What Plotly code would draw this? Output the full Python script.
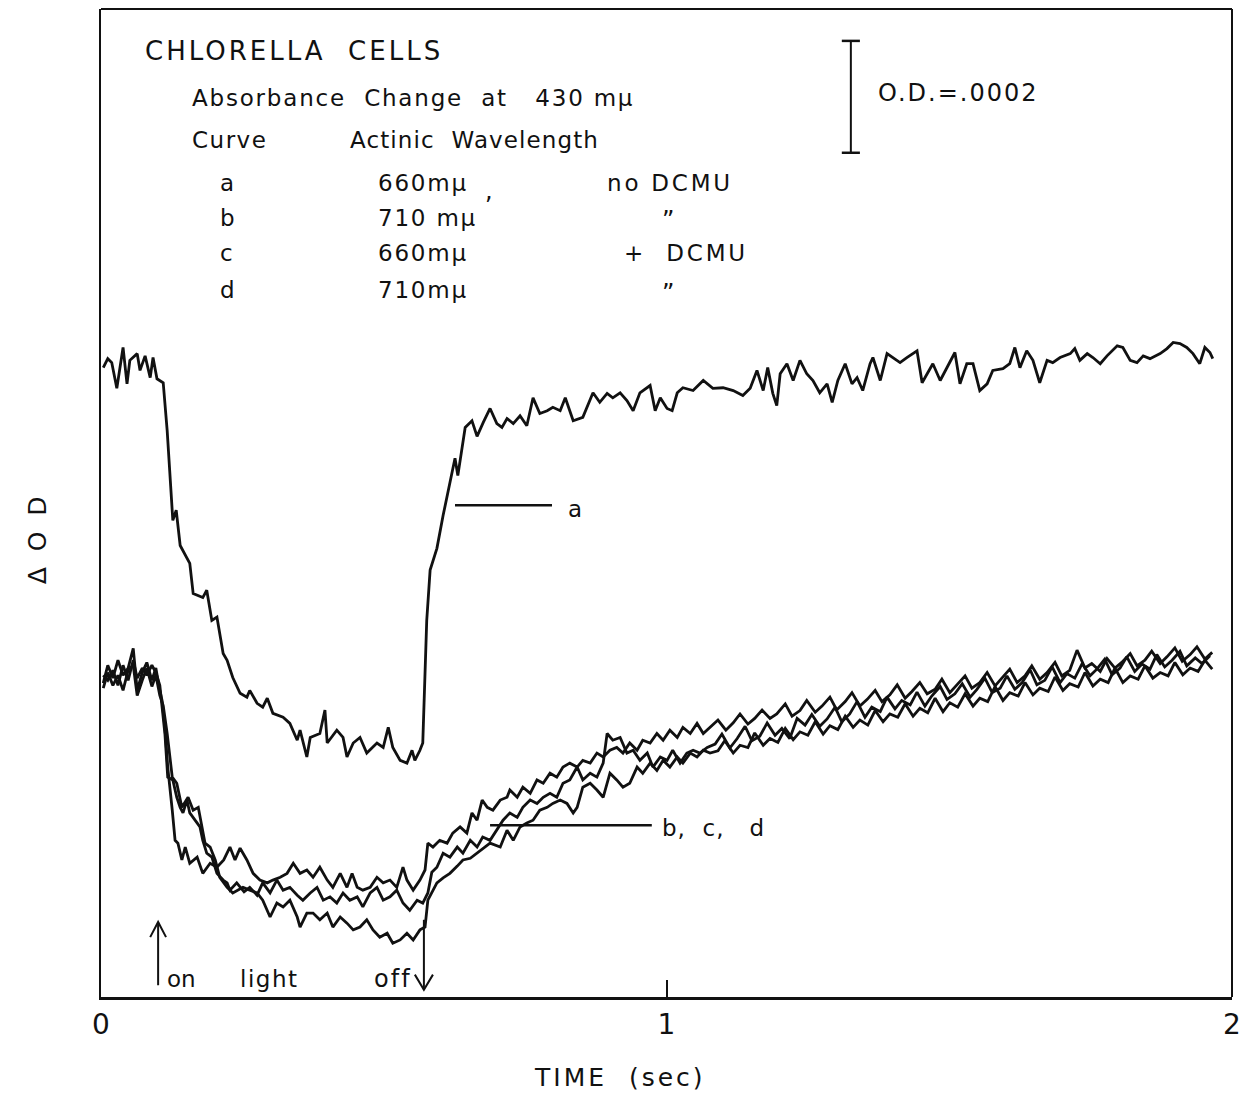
import plotly.graph_objects as go

# ---- data: time (s), delta OD (units of 1e-4) ----
curve_a = [
    (0.004, 11.25), (0.012, 11.41), (0.019, 11.34), (0.028, 10.88), (0.039, 11.61), (0.046, 10.96),
    (0.051, 11.38), (0.064, 11.50), (0.069, 11.20), (0.078, 11.46), (0.087, 11.07), (0.092, 11.43),
    (0.099, 11.05), (0.110, 10.98), (0.117, 10.13), (0.122, 9.29), (0.127, 8.52), (0.133, 8.70),
    (0.140, 8.07), (0.157, 7.75), (0.163, 7.21), (0.180, 7.14), (0.187, 7.27), (0.196, 6.73),
    (0.205, 6.79), (0.216, 6.14), (0.223, 6.02), (0.233, 5.71), (0.246, 5.43), (0.258, 5.36),
    (0.263, 5.48), (0.276, 5.25), (0.286, 5.18), (0.294, 5.34), (0.304, 5.07), (0.322, 5.00),
    (0.334, 4.89), (0.347, 4.59), (0.352, 4.77), (0.364, 4.29), (0.370, 4.64), (0.387, 4.71),
    (0.396, 5.13), (0.400, 4.54), (0.417, 4.77), (0.428, 4.64), (0.435, 4.29), (0.446, 4.54),
    (0.458, 4.64), (0.470, 4.36), (0.488, 4.54), (0.499, 4.46), (0.508, 4.82), (0.516, 4.46),
    (0.529, 4.23), (0.541, 4.18), (0.550, 4.41), (0.555, 4.23), (0.564, 4.41), (0.569, 4.54),
    (0.573, 5.96), (0.576, 6.73), (0.582, 7.63), (0.594, 8.02), (0.605, 8.61), (0.617, 9.23),
    (0.626, 9.63), (0.631, 9.32), (0.644, 10.18), (0.656, 10.30), (0.665, 10.02), (0.676, 10.27),
    (0.688, 10.52), (0.700, 10.25), (0.709, 10.18), (0.718, 10.34), (0.729, 10.25), (0.741, 10.39),
    (0.753, 10.21), (0.764, 10.71), (0.776, 10.43), (0.789, 10.48), (0.799, 10.54), (0.812, 10.48),
    (0.821, 10.71), (0.835, 10.30), (0.852, 10.36), (0.870, 10.80), (0.882, 10.63), (0.895, 10.79),
    (0.905, 10.71), (0.918, 10.80), (0.930, 10.66), (0.941, 10.48), (0.953, 10.80), (0.971, 10.93),
    (0.980, 10.48), (0.989, 10.71), (1.001, 10.52), (1.010, 10.48), (1.019, 10.80), (1.029, 10.89),
    (1.047, 10.84), (1.065, 11.02), (1.082, 10.88), (1.100, 10.89), (1.118, 10.84), (1.135, 10.75),
    (1.148, 10.88), (1.160, 11.20), (1.171, 10.84), (1.179, 11.25), (1.188, 10.79), (1.195, 10.57),
    (1.201, 11.14), (1.213, 11.32), (1.224, 11.02), (1.236, 11.38), (1.248, 11.14), (1.259, 11.02),
    (1.271, 10.80), (1.284, 10.96), (1.293, 10.63), (1.303, 11.02), (1.316, 11.32), (1.328, 10.96),
    (1.337, 11.07), (1.347, 10.84), (1.360, 11.32), (1.365, 11.43), (1.378, 11.02), (1.390, 11.50),
    (1.401, 11.43), (1.413, 11.34), (1.425, 11.43), (1.443, 11.55), (1.452, 10.98), (1.461, 11.14),
    (1.471, 11.32), (1.484, 11.02), (1.496, 11.25), (1.510, 11.52), (1.519, 10.96), (1.531, 11.32),
    (1.542, 11.32), (1.554, 10.84), (1.567, 10.96), (1.577, 11.20), (1.595, 11.23), (1.607, 11.32),
    (1.616, 11.61), (1.625, 11.25), (1.637, 11.55), (1.648, 11.38), (1.660, 10.98), (1.673, 11.38),
    (1.683, 11.34), (1.696, 11.43), (1.714, 11.50), (1.722, 11.59), (1.731, 11.38), (1.744, 11.50),
    (1.754, 11.43), (1.767, 11.32), (1.779, 11.46), (1.797, 11.64), (1.807, 11.61), (1.820, 11.38),
    (1.832, 11.34), (1.843, 11.46), (1.855, 11.41), (1.873, 11.50), (1.885, 11.59), (1.896, 11.70),
    (1.908, 11.68), (1.920, 11.61), (1.931, 11.50), (1.943, 11.32), (1.952, 11.61), (1.961, 11.52),
    (1.966, 11.41),
]

curve_b = [
    (0.004, 5.61), (0.012, 5.93), (0.021, 5.70), (0.030, 6.02), (0.039, 5.75), (0.048, 5.88),
    (0.057, 6.23), (0.064, 5.48), (0.073, 5.80), (0.081, 5.98), (0.090, 5.66), (0.097, 5.88),
    (0.104, 5.48), (0.108, 5.30), (0.113, 4.82), (0.118, 4.11), (0.126, 3.34), (0.131, 2.80),
    (0.136, 2.75), (0.143, 2.45), (0.149, 2.68), (0.157, 2.39), (0.170, 2.50), (0.180, 2.21),
    (0.193, 2.39), (0.205, 2.32), (0.217, 2.45), (0.228, 2.68), (0.237, 2.45), (0.246, 2.66),
    (0.258, 2.45), (0.269, 2.21), (0.281, 2.09), (0.294, 2.04), (0.304, 2.09), (0.317, 2.14),
    (0.329, 2.21), (0.340, 2.39), (0.352, 2.21), (0.364, 2.27), (0.375, 2.14), (0.387, 2.32),
    (0.400, 2.09), (0.410, 1.96), (0.423, 2.21), (0.435, 1.96), (0.444, 2.21), (0.453, 1.96),
    (0.463, 1.91), (0.476, 1.96), (0.488, 2.14), (0.499, 2.04), (0.511, 2.09), (0.523, 1.96),
    (0.534, 2.32), (0.541, 2.09), (0.552, 1.91), (0.564, 2.09), (0.573, 2.27), (0.578, 2.75),
    (0.587, 2.68), (0.599, 2.80), (0.612, 2.75), (0.622, 2.93), (0.635, 3.04), (0.647, 2.93),
    (0.656, 3.29), (0.665, 3.16), (0.674, 3.52), (0.683, 3.39), (0.693, 3.34), (0.706, 3.52),
    (0.718, 3.57), (0.723, 3.70), (0.736, 3.57), (0.746, 3.75), (0.759, 3.64), (0.771, 3.88),
    (0.782, 3.82), (0.794, 4.00), (0.806, 3.93), (0.817, 4.11), (0.829, 4.18), (0.842, 4.11),
    (0.852, 4.23), (0.865, 4.18), (0.877, 4.36), (0.888, 4.29), (0.900, 4.41), (0.912, 4.46),
    (0.923, 4.36), (0.935, 4.54), (0.948, 4.41), (0.958, 4.59), (0.971, 4.54), (0.983, 4.71),
    (0.994, 4.59), (1.006, 4.77), (1.019, 4.64), (1.029, 4.82), (1.042, 4.71), (1.054, 4.89),
    (1.065, 4.71), (1.077, 4.82), (1.091, 4.95), (1.105, 4.77), (1.118, 4.90), (1.130, 5.06),
    (1.144, 4.88), (1.156, 4.98), (1.169, 5.13), (1.183, 4.98), (1.195, 5.06), (1.210, 5.24),
    (1.222, 5.02), (1.236, 5.12), (1.248, 5.30), (1.263, 5.09), (1.275, 5.20), (1.289, 5.36),
    (1.301, 5.13), (1.316, 5.28), (1.328, 5.44), (1.342, 5.20), (1.355, 5.32), (1.369, 5.48),
    (1.381, 5.28), (1.395, 5.40), (1.408, 5.58), (1.422, 5.34), (1.434, 5.46), (1.448, 5.62),
    (1.461, 5.42), (1.475, 5.50), (1.487, 5.68), (1.501, 5.44), (1.514, 5.58), (1.528, 5.74),
    (1.540, 5.52), (1.554, 5.62), (1.567, 5.80), (1.581, 5.56), (1.593, 5.70), (1.607, 5.86),
    (1.620, 5.62), (1.634, 5.74), (1.646, 5.92), (1.660, 5.68), (1.673, 5.80), (1.687, 5.98),
    (1.699, 5.74), (1.713, 5.84), (1.726, 6.20), (1.740, 5.88), (1.752, 5.96), (1.767, 5.82),
    (1.779, 6.05), (1.793, 5.88), (1.805, 5.98), (1.820, 6.14), (1.832, 5.92), (1.846, 6.02),
    (1.858, 6.18), (1.873, 5.96), (1.885, 6.08), (1.899, 6.24), (1.912, 6.00), (1.926, 6.12),
    (1.938, 6.26), (1.952, 6.04), (1.965, 6.16),
]

curve_c = [
    (0.004, 5.75), (0.012, 5.66), (0.021, 5.84), (0.030, 5.57), (0.039, 5.93), (0.048, 5.66),
    (0.057, 6.02), (0.064, 5.70), (0.073, 5.88), (0.081, 5.75), (0.090, 5.93), (0.097, 5.80),
    (0.104, 5.57), (0.108, 5.21), (0.113, 4.71), (0.118, 3.93), (0.127, 3.88), (0.134, 3.57),
    (0.140, 3.39), (0.145, 3.29), (0.152, 3.52), (0.157, 3.29), (0.166, 3.16), (0.175, 3.04),
    (0.180, 2.80), (0.187, 2.57), (0.196, 2.50), (0.205, 2.21), (0.216, 2.09), (0.223, 2.04),
    (0.228, 1.91), (0.240, 2.04), (0.253, 1.88), (0.263, 1.96), (0.276, 1.82), (0.286, 2.04),
    (0.299, 1.86), (0.311, 2.09), (0.322, 1.91), (0.334, 1.96), (0.347, 1.82), (0.357, 1.73),
    (0.370, 1.86), (0.382, 1.96), (0.393, 1.73), (0.405, 1.79), (0.417, 1.68), (0.428, 1.86),
    (0.440, 1.73), (0.453, 1.79), (0.463, 1.61), (0.476, 1.86), (0.488, 1.96), (0.499, 1.73),
    (0.511, 1.79), (0.523, 1.91), (0.534, 1.68), (0.546, 1.55), (0.559, 1.73), (0.569, 1.68),
    (0.578, 1.86), (0.585, 2.23), (0.594, 2.32), (0.605, 2.57), (0.617, 2.50), (0.630, 2.68),
    (0.640, 2.57), (0.653, 2.80), (0.665, 2.68), (0.675, 2.86), (0.688, 2.80), (0.700, 2.98),
    (0.711, 3.16), (0.723, 3.29), (0.736, 3.21), (0.746, 3.39), (0.759, 3.52), (0.771, 3.46),
    (0.782, 3.57), (0.794, 3.64), (0.806, 3.57), (0.817, 3.82), (0.829, 3.88), (0.842, 4.11),
    (0.852, 3.88), (0.865, 4.00), (0.877, 3.93), (0.888, 4.18), (0.895, 4.71), (0.905, 4.59),
    (0.918, 4.64), (0.930, 4.36), (0.941, 4.41), (0.953, 4.23), (0.966, 4.36), (0.976, 4.11),
    (0.989, 4.29), (1.001, 4.23), (1.011, 4.41), (1.024, 4.18), (1.036, 4.36), (1.047, 4.41),
    (1.059, 4.36), (1.072, 4.46), (1.086, 4.52), (1.098, 4.70), (1.112, 4.45), (1.125, 4.62),
    (1.139, 4.84), (1.151, 4.58), (1.165, 4.66), (1.178, 4.90), (1.192, 4.68), (1.204, 4.80),
    (1.218, 4.62), (1.231, 4.98), (1.245, 4.86), (1.257, 5.05), (1.271, 4.84), (1.284, 4.97),
    (1.298, 5.18), (1.310, 4.92), (1.324, 5.06), (1.337, 5.28), (1.351, 5.00), (1.363, 5.18),
    (1.378, 5.10), (1.390, 5.36), (1.404, 5.15), (1.416, 5.30), (1.431, 5.22), (1.443, 5.45),
    (1.457, 5.20), (1.469, 5.38), (1.484, 5.55), (1.496, 5.32), (1.510, 5.42), (1.523, 5.60),
    (1.537, 5.36), (1.549, 5.50), (1.563, 5.70), (1.576, 5.44), (1.590, 5.52), (1.602, 5.74),
    (1.616, 5.50), (1.629, 5.62), (1.643, 5.85), (1.655, 5.58), (1.669, 5.66), (1.682, 5.90),
    (1.696, 5.62), (1.708, 5.78), (1.722, 5.70), (1.735, 5.96), (1.749, 5.74), (1.761, 5.86),
    (1.775, 6.04), (1.788, 5.76), (1.802, 5.88), (1.814, 6.08), (1.828, 5.82), (1.841, 5.95),
    (1.855, 5.86), (1.867, 6.12), (1.881, 5.90), (1.894, 6.02), (1.908, 6.18), (1.920, 5.92),
    (1.935, 6.06), (1.947, 5.96), (1.961, 6.10),
]

curve_d = [
    (0.004, 5.52), (0.012, 5.80), (0.021, 5.57), (0.030, 5.75), (0.039, 5.48), (0.048, 5.84),
    (0.057, 5.93), (0.064, 5.39), (0.073, 5.66), (0.081, 5.88), (0.090, 5.55), (0.097, 5.75),
    (0.104, 5.39), (0.110, 5.21), (0.117, 4.71), (0.126, 3.93), (0.134, 3.82), (0.143, 3.39),
    (0.154, 3.57), (0.163, 3.34), (0.172, 3.39), (0.179, 3.04), (0.184, 2.75), (0.193, 2.68),
    (0.202, 2.45), (0.210, 2.14), (0.223, 1.96), (0.233, 1.86), (0.251, 1.96), (0.263, 1.91),
    (0.276, 1.86), (0.286, 1.73), (0.299, 1.43), (0.311, 1.68), (0.322, 1.61), (0.334, 1.73),
    (0.347, 1.43), (0.352, 1.25), (0.364, 1.50), (0.375, 1.50), (0.387, 1.38), (0.400, 1.50),
    (0.410, 1.25), (0.423, 1.43), (0.435, 1.32), (0.446, 1.20), (0.458, 1.25), (0.470, 1.38),
    (0.481, 1.20), (0.493, 1.07), (0.506, 1.14), (0.516, 0.96), (0.529, 1.02), (0.541, 1.14),
    (0.552, 1.02), (0.564, 1.20), (0.573, 1.25), (0.578, 1.73), (0.587, 1.91), (0.594, 2.04),
    (0.605, 2.13), (0.617, 2.21), (0.630, 2.34), (0.640, 2.45), (0.653, 2.48), (0.665, 2.57),
    (0.675, 2.66), (0.688, 2.75), (0.706, 2.68), (0.718, 2.98), (0.729, 2.80), (0.741, 3.04),
    (0.753, 3.11), (0.764, 3.16), (0.776, 3.34), (0.789, 3.39), (0.799, 3.46), (0.812, 3.52),
    (0.824, 3.46), (0.835, 3.29), (0.842, 3.39), (0.852, 3.75), (0.865, 3.82), (0.877, 3.70),
    (0.888, 3.57), (0.900, 4.00), (0.912, 3.88), (0.923, 3.75), (0.935, 3.82), (0.948, 4.11),
    (0.958, 4.00), (0.971, 4.18), (0.983, 4.05), (0.994, 4.23), (1.006, 4.11), (1.019, 4.29),
    (1.029, 4.18), (1.042, 4.36), (1.054, 4.29), (1.065, 4.41), (1.077, 4.36), (1.091, 4.40),
    (1.103, 4.58), (1.118, 4.36), (1.130, 4.50), (1.144, 4.46), (1.156, 4.72), (1.171, 4.50),
    (1.183, 4.62), (1.197, 4.55), (1.210, 4.80), (1.224, 4.60), (1.236, 4.74), (1.250, 4.68),
    (1.263, 4.92), (1.277, 4.70), (1.289, 4.85), (1.303, 4.78), (1.316, 5.02), (1.330, 4.82),
    (1.342, 4.95), (1.356, 4.86), (1.369, 5.12), (1.383, 4.92), (1.395, 5.06), (1.409, 5.00),
    (1.422, 5.24), (1.436, 5.02), (1.448, 5.16), (1.462, 5.08), (1.475, 5.34), (1.489, 5.10),
    (1.501, 5.26), (1.515, 5.18), (1.528, 5.42), (1.542, 5.20), (1.554, 5.34), (1.568, 5.28),
    (1.581, 5.55), (1.595, 5.30), (1.607, 5.44), (1.622, 5.38), (1.634, 5.62), (1.648, 5.40),
    (1.660, 5.52), (1.675, 5.46), (1.687, 5.72), (1.701, 5.48), (1.713, 5.60), (1.728, 5.54),
    (1.740, 5.80), (1.754, 5.56), (1.767, 5.68), (1.781, 5.62), (1.793, 5.88), (1.807, 5.62),
    (1.820, 5.74), (1.834, 5.68), (1.846, 5.92), (1.860, 5.70), (1.873, 5.80), (1.887, 5.74),
    (1.899, 5.98), (1.913, 5.76), (1.926, 5.88), (1.940, 5.82), (1.952, 6.02), (1.965, 5.86),
]

x_tick_vals = [0, 1, 2]
x_tick_text = ["0", "1", "2"]
light_on_t = 0.101
light_off_t = 0.571
scale_bar_od = 2.0  # 0.0002 OD in units of 1e-4

FONT = "DejaVu Sans"
INK = "#111111"

fig = go.Figure()
for name, pts in [("a", curve_a), ("b", curve_b), ("c", curve_c), ("d", curve_d)]:
    t, y = zip(*pts)
    fig.add_trace(go.Scatter(x=list(t), y=list(y), mode="lines", name=name,
                             line=dict(color=INK, width=2.8), showlegend=False,
                             hoverinfo="skip"))

shapes = []
shapes.append(dict(type="line", xref="paper", yref="paper", x0=0, x1=1, y0=1, y1=1,
                   line=dict(color=INK, width=2)))
shapes.append(dict(type="line", xref="paper", yref="paper", x0=1, x1=1, y0=0, y1=1,
                   line=dict(color=INK, width=2)))
sb_x = 1.326
sb_top = 17.09
shapes.append(dict(type="line", x0=sb_x, x1=sb_x, y0=sb_top - scale_bar_od, y1=sb_top,
                   line=dict(color=INK, width=2)))
for yy in (sb_top, sb_top - scale_bar_od):
    shapes.append(dict(type="line", x0=sb_x - 0.016, x1=sb_x + 0.016, y0=yy, y1=yy,
                       line=dict(color=INK, width=2.5)))
shapes.append(dict(type="line", x0=0.626, x1=0.7975, y0=8.79, y1=8.79,
                   line=dict(color=INK, width=2.5)))
shapes.append(dict(type="line", x0=0.688, x1=0.974, y0=3.07, y1=3.07,
                   line=dict(color=INK, width=2.5)))
shapes.append(dict(type="line", x0=light_on_t, x1=light_on_t, y0=0.21, y1=1.34,
                   line=dict(color=INK, width=2)))
shapes.append(dict(type="path",
                   path=f"M {light_on_t-0.014},1.07 L {light_on_t},1.34 L {light_on_t+0.014},1.07",
                   line=dict(color=INK, width=2)))
shapes.append(dict(type="line", x0=light_off_t, x1=light_off_t, y0=0.13, y1=1.38,
                   line=dict(color=INK, width=2)))
shapes.append(dict(type="path",
                   path=f"M {light_off_t-0.016},0.40 L {light_off_t},0.13 L {light_off_t+0.016},0.40",
                   line=dict(color=INK, width=2)))

ann = []
def txt(x, y, s, size=23, xanchor="left", xref="x", yref="y", angle=0, ls=0):
    if ls:
        s = f'<span style="letter-spacing:{ls}px">{s}</span>'
    ann.append(dict(x=x, y=y, xref=xref, yref=yref, text=s, showarrow=False,
                    xanchor=xanchor, yanchor="middle", textangle=angle,
                    font=dict(family=FONT, size=size, color=INK)))

NB = "\u00a0"
txt(0.074, 16.91, f"CHLORELLA{NB}{NB}CELLS", size=26, ls=3)
txt(0.157, 16.07, f"Absorbance{NB}{NB}Change{NB}{NB}at{NB}{NB}{NB}430{NB}mμ", size=23, ls=1.8)
txt(0.157, 15.32, "Curve", size=23, ls=1.5)
txt(0.437, 15.32, f"Actinic{NB}{NB}Wavelength", size=23, ls=1.1)
rows = [("a", 14.55, "660mμ", "no DCMU", 0.891),
        ("b", 13.93, "710 mμ", "”", 1.002),
        ("c", 13.29, "660mμ", f"+{NB}{NB}DCMU", 0.921),
        ("d", 12.63, "710mμ", "”", 1.002)]
for lab, yy, wl, cond, cx in rows:
    txt(0.207, yy, lab, size=23)
    txt(0.486, yy, wl, size=23, ls=1.8)
    if cond == "”":
        txt(cx, yy - 0.05, cond, size=24, xanchor="center")
    else:
        txt(cx, yy, cond, size=23, ls=2.8)
txt(0.676, 14.40, ",", size=24)
txt(1.370, 16.16, "O.D.=.0002", size=24, ls=2)
txt(0.822, 8.73, "a", size=23)
txt(0.989, 3.02, f"b,{NB}{NB}c,{NB}{NB}{NB}d", size=23, ls=1)
txt(0.113, 0.33, "on", size=23)
txt(0.243, 0.33, "light", size=23, ls=1.5)
txt(0.479, 0.33, "off", size=24, ls=2)
txt(0.459, -0.081, f"TIME{NB}{NB}(sec)", size=25, xanchor="center", xref="paper", yref="paper", ls=3)
txt(-0.056, 0.462, f"Δ{NB}{NB}O{NB}{NB}D", size=25, xanchor="center", xref="paper", yref="paper",
    angle=-90)

fig.update_layout(
    width=1241, height=1085,
    margin=dict(l=93, r=17, t=1, b=96),
    paper_bgcolor="white", plot_bgcolor="white",
    shapes=shapes, annotations=ann,
    xaxis=dict(range=[0, 2], tickvals=x_tick_vals, ticktext=x_tick_text, ticks="inside",
               ticklen=17, tickwidth=2, tickcolor=INK, showgrid=False, zeroline=False,
               showline=True, linewidth=3, linecolor=INK,
               tickfont=dict(family=FONT, size=28, color=INK)),
    yaxis=dict(range=[0, 17.66], showticklabels=False, ticks="", showgrid=False,
               zeroline=False, showline=True, linewidth=2, linecolor=INK),
)

fig.write_html("out.html")
